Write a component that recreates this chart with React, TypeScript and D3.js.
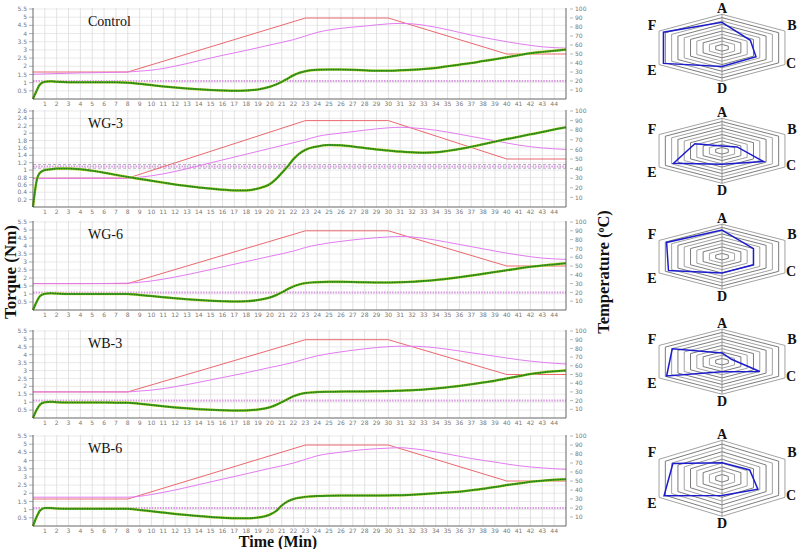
import React from "react";
import * as d3 from "d3";

// mixing protocol: minutes and set temperature (°C)
const setTempTime = [0, 8, 23, 30, 40, 45];
const setTemp = [30, 30, 90, 90, 50, 50];

// measured dough temperature (°C)
const doughTime = [0, 4, 8, 9, 10, 12, 14, 16, 18, 20, 22, 23, 24, 26, 28, 30, 31, 32, 33, 35, 37, 39, 41, 43, 45];
const doughControl = [27.5, 29, 30, 31, 32, 36.5, 42.5, 48.5, 54, 60, 66, 70, 74, 78.5, 81, 83.5, 84, 83.5, 82, 77, 71, 66, 61.5, 58, 56.5];
const doughWG3 = [29.5, 30, 30, 31, 32.5, 37, 43, 49, 55, 61, 67, 70, 73.5, 77, 80, 82.5, 83, 82.5, 81.5, 78, 73.5, 69, 64.5, 61.5, 60];
const doughWG6 = [30, 30, 30.5, 31.5, 33, 37.5, 43, 49, 55, 61, 67, 71, 74, 78, 81, 83, 83.5, 83, 81.5, 77, 72, 67, 62.5, 59, 57.5];
const doughWB3 = [30, 30, 30, 31, 32, 36, 41, 46.5, 52, 58, 64, 68, 71.5, 76, 79.5, 82, 82.5, 82.5, 82, 79, 75, 71, 67, 64, 62];
const doughWB6 = [32, 32, 32, 33, 35, 40, 46, 52, 58, 64, 70, 74, 78, 82, 85, 86.5, 87, 86, 84.5, 80, 75, 71, 67, 64.5, 63];

// torque (Nm)
const torqueTime = [0, 0.3, 0.6, 1, 1.5, 2, 3, 4, 5, 6, 7, 8, 9, 10, 11, 12, 13, 14, 15, 16, 17, 18, 19, 20, 20.5, 21, 21.5, 22, 22.5, 23, 24, 25, 26, 27, 28, 29, 30, 31, 32, 33, 34, 35, 36, 37, 38, 39, 40, 41, 42, 43, 44, 45];
const torqueControl = [0, 0.5, 0.9, 1.05, 1.08, 1.05, 1.02, 1.02, 1.02, 1.02, 1.02, 1.0, 0.93, 0.85, 0.77, 0.7, 0.64, 0.59, 0.55, 0.52, 0.5, 0.52, 0.58, 0.75, 0.88, 1.05, 1.25, 1.45, 1.6, 1.7, 1.78, 1.8, 1.8, 1.78, 1.75, 1.73, 1.73, 1.75, 1.78, 1.83, 1.9, 2.0, 2.1, 2.2, 2.32, 2.43, 2.55, 2.68, 2.8, 2.88, 2.95, 3.02];
const torqueWG3 = [0, 0.7, 0.93, 1.0, 1.02, 1.04, 1.04, 1.02, 0.98, 0.93, 0.87, 0.81, 0.76, 0.71, 0.66, 0.61, 0.57, 0.53, 0.5, 0.47, 0.45, 0.45, 0.5, 0.62, 0.75, 0.92, 1.1, 1.3, 1.45, 1.55, 1.64, 1.68, 1.67, 1.64, 1.6, 1.56, 1.53, 1.5, 1.48, 1.47, 1.48, 1.52, 1.57, 1.63, 1.7, 1.77, 1.84, 1.9, 1.97, 2.03, 2.1, 2.16];
const torqueWG6 = [0, 0.5, 0.88, 1.02, 1.05, 1.03, 1.0, 1.0, 1.0, 1.0, 1.0, 1.0, 0.94, 0.87, 0.8, 0.73, 0.67, 0.62, 0.58, 0.55, 0.53, 0.55, 0.62, 0.78, 0.92, 1.1, 1.3, 1.48, 1.6, 1.68, 1.74, 1.76, 1.76, 1.75, 1.73, 1.72, 1.72, 1.74, 1.77, 1.82, 1.88, 1.96, 2.05, 2.15, 2.26, 2.37, 2.48, 2.6, 2.7, 2.78, 2.85, 2.92];
const torqueWB3 = [0, 0.5, 0.85, 1.0, 1.02, 1.0, 0.98, 0.98, 0.98, 0.98, 0.97, 0.97, 0.9, 0.82, 0.74, 0.67, 0.61, 0.56, 0.52, 0.49, 0.47, 0.48, 0.53, 0.68, 0.82, 1.0, 1.2, 1.38, 1.5, 1.58, 1.64, 1.66, 1.67, 1.68, 1.68, 1.69, 1.7, 1.73, 1.76, 1.8, 1.86, 1.94, 2.03, 2.13, 2.24, 2.36, 2.5, 2.64, 2.78, 2.88, 2.95, 3.0];
const torqueWB6 = [0, 0.55, 0.95, 1.1, 1.1, 1.07, 1.05, 1.05, 1.05, 1.05, 1.05, 1.05, 0.98, 0.9, 0.82, 0.74, 0.67, 0.61, 0.55, 0.51, 0.48, 0.47, 0.52, 0.7, 0.9, 1.25, 1.5, 1.65, 1.73, 1.78, 1.83, 1.85, 1.86, 1.86, 1.86, 1.86, 1.87, 1.88, 1.91, 1.95, 2.0, 2.05, 2.1, 2.18, 2.27, 2.38, 2.5, 2.6, 2.7, 2.77, 2.82, 2.86];

const targetTorque = 1.1;
const bandWG3 = [1.15, 1.05];

// tick labels
const minuteTicks = [1, 2, 3, 4, 5, 6, 7, 8, 9, 10, 11, 12, 13, 14, 15, 16, 17, 18, 19, 20, 21, 22, 23, 24, 25, 26, 27, 28, 29, 30, 31, 32, 33, 34, 35, 36, 37, 38, 39, 40, 41, 42, 43, 44];
const torqueTicks = [0.5, 1, 1.5, 2, 2.5, 3, 3.5, 4, 4.5, 5, 5.5];
const torqueTicksFine = [0.2, 0.4, 0.6, 0.8, 1, 1.2, 1.4, 1.6, 1.8, 2, 2.2, 2.4, 2.6];
const tempTicks = [10, 20, 30, 40, 50, 60, 70, 80, 90, 100];

// radar scores
const radarAxes = ["A", "B", "C", "D", "E", "F"];
const radarControl = [7.6, 4.5, 5.4, 5.6, 9.3, 9.3];
const radarWG3 = [1.5, 2.4, 6.6, 4.1, 7.7, 4.3];
const radarWG6 = [8.2, 5.0, 5.0, 5.0, 8.5, 8.8];
const radarWB3 = [2.7, 1.5, 6.0, 3.1, 8.8, 7.9];
const radarWB6 = [4.1, 4.4, 5.7, 4.5, 9.2, 7.8];
const radarLevels = [1, 2, 3, 4, 5, 6, 7, 8, 9, 10];

const serif = "'Liberation Serif', 'Times New Roman', serif";
const tickFont = "'DejaVu Sans', sans-serif";

const X0 = 33;
const X1 = 566;

type PanelDef = {
  name: string;
  top: number;
  bottom: number;
  yMax: number;
  ticks: number[];
  torque: number[];
  dough: number[];
  band?: number[];
};

const panels: PanelDef[] = [
  { name: "Control", top: 9, bottom: 99, yMax: 5.5, ticks: torqueTicks, torque: torqueControl, dough: doughControl },
  { name: "WG-3", top: 111, bottom: 207, yMax: 2.6, ticks: torqueTicksFine, torque: torqueWG3, dough: doughWG3, band: bandWG3 },
  { name: "WG-6", top: 222, bottom: 310, yMax: 5.5, ticks: torqueTicks, torque: torqueWG6, dough: doughWG6 },
  { name: "WB-3", top: 331, bottom: 418, yMax: 5.5, ticks: torqueTicks, torque: torqueWB3, dough: doughWB3 },
  { name: "WB-6", top: 436, bottom: 526, yMax: 5.5, ticks: torqueTicks, torque: torqueWB6, dough: doughWB6 },
];

const radars = [
  { cy: 47.8, ry: 33.5, values: radarControl },
  { cy: 150.8, ry: 32.5, values: radarWG3 },
  { cy: 256.7, ry: 32.5, values: radarWG6 },
  { cy: 361.7, ry: 32.5, values: radarWB3 },
  { cy: 478.3, ry: 38, values: radarWB6 },
];

function Panel({ p }: { p: PanelDef }) {
  const x = d3.scaleLinear().domain([0, 45]).range([X0, X1]);
  const y = d3.scaleLinear().domain([0, p.yMax]).range([p.bottom, p.top]);
  const t = d3.scaleLinear().domain([0, 100]).range([p.bottom, p.top]);
  const gridTop = p.top - 1;

  const tempLine = d3
    .line<number>()
    .x((_, i) => x(setTempTime[i]))
    .y((d) => t(d));
  const doughLine = d3
    .line<number>()
    .x((_, i) => x(doughTime[i]))
    .y((d) => t(d))
    .curve(d3.curveMonotoneX);
  const torqueLine = d3
    .line<number>()
    .x((_, i) => x(torqueTime[i]))
    .y((d) => y(d))
    .curve(d3.curveMonotoneX);

  return (
    <g>
      {/* grid */}
      {minuteTicks.map((m) => (
        <line key={"v" + m} x1={x(m)} x2={x(m)} y1={gridTop} y2={p.bottom} stroke="#d6d6d6" strokeWidth={0.7} />
      ))}
      {p.ticks.map((v) => (
        <line key={"h" + v} x1={X0} x2={X1} y1={y(v)} y2={y(v)} stroke="#dcdcdc" strokeWidth={0.6} />
      ))}

      {/* target consistency */}
      {p.band &&
        p.band.map((v) => (
          <line key={"b" + v} x1={X0} x2={X1} y1={y(v)} y2={y(v)} stroke="#9a8aa8" strokeWidth={0.7} strokeDasharray="3 2" />
        ))}
      <line x1={X0} x2={X1} y1={y(targetTorque)} y2={y(targetTorque)} stroke="#d79ae0" strokeWidth={2} strokeDasharray="1.5 1.2" />

      {/* temperatures */}
      <path d={tempLine(setTemp) ?? ""} fill="none" stroke="#e8585e" strokeWidth={0.9} />
      <path d={doughLine(p.dough) ?? ""} fill="none" stroke="#e27cf0" strokeWidth={1} />

      {/* torque */}
      <path d={torqueLine(p.torque) ?? ""} fill="none" stroke="#d8e84a" strokeWidth={2.6} />
      <path d={torqueLine(p.torque) ?? ""} fill="none" stroke="#3f9c22" strokeWidth={2} />
      <path d={torqueLine(p.torque) ?? ""} fill="none" stroke="#1f6a14" strokeWidth={1.2} strokeDasharray="0.8 1.6" />

      {/* frame */}
      <line x1={X0} x2={X0} y1={gridTop} y2={p.bottom} stroke="#555" strokeWidth={0.9} />
      <line x1={X1} x2={X1} y1={gridTop} y2={p.bottom} stroke="#555" strokeWidth={0.9} />
      <line x1={X0} x2={X1} y1={p.bottom} y2={p.bottom} stroke="#555" strokeWidth={0.9} />

      {/* left axis */}
      {p.ticks.map((v) => (
        <g key={"l" + v}>
          <line x1={X0 - 4} x2={X0} y1={y(v)} y2={y(v)} stroke="#777" strokeWidth={0.6} />
          <text x={X0 - 6} y={y(v)} dy="0.35em" textAnchor="end" fontSize={6} fontFamily={tickFont} fill="#777">
            {v}
          </text>
        </g>
      ))}

      {/* right axis */}
      {tempTicks.map((v) => (
        <g key={"r" + v}>
          <line x1={X1 + 4} x2={X1 + 7} y1={t(v)} y2={t(v)} stroke="#888" strokeWidth={0.6} />
          <text x={X1 + 9} y={t(v)} dy="0.35em" fontSize={6} fontFamily={tickFont} fill="#777">
            {v}
          </text>
        </g>
      ))}

      {/* minutes */}
      {minuteTicks.map((m) => (
        <text key={"x" + m} x={x(m)} y={p.bottom + 4.5} dy="0.35em" textAnchor="middle" fontSize={6} fontFamily={tickFont} fill="#777">
          {m}
        </text>
      ))}

      <text x={88} y={p.top + 17} fontSize={14} fontFamily={serif} fill="#111">
        {p.name}
      </text>
    </g>
  );
}

function Radar({ cy, ry, values }: { cy: number; ry: number; values: number[] }) {
  const cx = 722;
  const rx = 72.7;
  const r = d3.scaleLinear().domain([0, 10]).range([0, 1]);
  const angle = d3.scaleLinear().domain([0, radarAxes.length]).range([0, 2 * Math.PI]);
  const pt = (i: number, v: number): [number, number] => [
    cx + rx * r(v) * Math.sin(angle(i)),
    cy - ry * r(v) * Math.cos(angle(i)),
  ];
  const closed = d3.line().curve(d3.curveLinearClosed);
  const k = ry / 33.8;
  const labelPos: [number, number][] = [
    [0, -(ry + 6.5)],
    [70, -23 * k],
    [69, 15 * k],
    [0, ry + 7],
    [-70, 22 * k],
    [-70, -23 * k],
  ];

  return (
    <g>
      {radarLevels.map((lv) => (
        <path
          key={lv}
          d={closed(radarAxes.map((_, i) => pt(i, lv))) ?? ""}
          fill="none"
          stroke={lv % 2 === 0 ? "#8c8c8c" : "#5a5a5a"}
          strokeWidth={0.8}
        />
      ))}
      <line x1={cx} x2={cx} y1={cy - ry} y2={cy + ry} stroke="#8c8c8c" strokeWidth={0.9} />
      {radarLevels.map((lv) => (
        <line key={"t" + lv} x1={cx} x2={cx + 2.5} y1={pt(0, lv)[1]} y2={pt(0, lv)[1]} stroke="#aaa" strokeWidth={0.6} />
      ))}
      <path d={closed(values.map((v, i) => pt(i, v))) ?? ""} fill="none" stroke="#1c1ccc" strokeWidth={1.5} />
      {radarAxes.map((a, i) => (
        <text
          key={a}
          x={cx + labelPos[i][0]}
          y={cy + labelPos[i][1]}
          dy="0.35em"
          textAnchor="middle"
          fontSize={14}
          fontWeight="bold"
          fontFamily={serif}
          fill="#111"
        >
          {a}
        </text>
      ))}
    </g>
  );
}

export default function App() {
  return (
    <svg width={800} height={549} style={{ position: "absolute", left: 0, top: 0, background: "#fff" }}>
      <rect width={800} height={549} fill="#fff" />
      {panels.map((p) => (
        <Panel key={p.name} p={p} />
      ))}
      {radars.map((r, i) => (
        <Radar key={i} {...r} />
      ))}

      <text
        transform="translate(16,272) rotate(-90)"
        textAnchor="middle"
        fontSize={17}
        fontWeight="bold"
        fontFamily={serif}
        fill="#111"
      >
        Torque (Nm)
      </text>
      <text
        transform="translate(609,272) rotate(-90)"
        textAnchor="middle"
        fontSize={16.5}
        fontWeight="bold"
        fontFamily={serif}
        fill="#111"
      >
        Temperature (<tspan baselineShift="super" fontSize={10}>o</tspan>C)
      </text>
      <text x={278} y={547} textAnchor="middle" fontSize={16} fontWeight="bold" fontFamily={serif} fill="#111">
        Time (Min)
      </text>
    </svg>
  );
}
